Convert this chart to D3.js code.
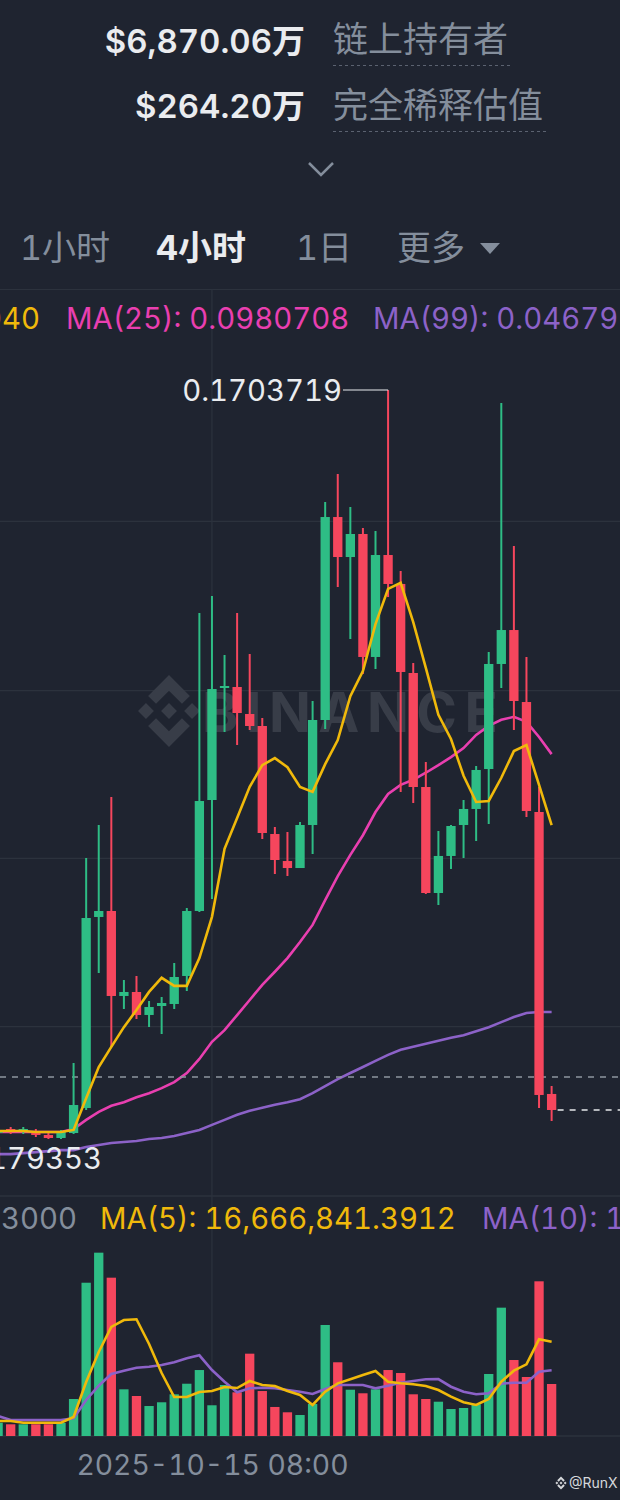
<!DOCTYPE html>
<html><head><meta charset="utf-8">
<script src="https://cdn.jsdelivr.net/npm/d3@7"></script>
<style>
html,body{margin:0;padding:0;background:#1f2430;}
svg{display:block;}
svg text{font-variant-numeric:tabular-nums;font-feature-settings:"tnum" 1;}
</style></head>
<body>
<svg id="c" width="620" height="1500"></svg>
<script>
// ---------- DATA ----------
const startTime = new Date(2025, 9, 12, 12, 0);           // first (partly hidden) 4h candle
const times = d3.range(45).map(i => d3.timeHour.offset(startTime, 4 * i));
const axisTicks = [new Date(2025, 9, 15, 8, 0)];

const opens  = [0.02289,0.02369,0.02309,0.02329,0.02250,0.02190,0.02289,0.02786,0.06577,0.06696,
                0.05009,0.05088,0.04632,0.04810,0.04850,0.05406,0.06696,0.08899,0.11122,0.11142,
                0.10606,0.10368,0.08224,0.07688,0.07549,0.08403,0.10487,0.14516,0.13722,0.14179,
                0.11738,0.13762,0.13187,0.11420,0.09157,0.07053,0.07788,0.08403,0.08721,0.09514,
                0.11599,0.12273,0.10844,0.08661,0.03064];
const highs  = [0.02389,0.02409,0.02409,0.02369,0.02309,0.02349,0.03679,0.07748,0.08403,0.08959,
                0.05326,0.05406,0.04909,0.04989,0.05664,0.06755,0.12611,0.12948,0.11777,0.12611,
                0.11797,0.10527,0.08363,0.08264,0.08462,0.10864,0.14814,0.15370,0.14715,0.14298,
                0.14239,0.1703719,0.13445,0.11618,0.09653,0.08284,0.08403,0.08899,0.09574,0.11837,
                0.16779,0.13941,0.11738,0.09157,0.03222];
const lows   = [0.02250,0.02270,0.02270,0.02210,0.02170,0.02170,0.02270,0.02746,0.05465,0.03996,
                0.04751,0.04552,0.04393,0.04254,0.04751,0.05108,0.06676,0.06934,0.10249,0.09991,
                0.10289,0.08125,0.07430,0.07391,0.07549,0.07827,0.10308,0.13127,0.12095,0.11400,
                0.11499,0.12928,0.09058,0.08840,0.07033,0.06815,0.07530,0.07748,0.08085,0.08423,
                0.11122,0.10289,0.08562,0.02786,0.02528];
const closes = [0.02349,0.02309,0.02369,0.02250,0.02190,0.02309,0.02845,0.06557,0.06696,0.05009,
                0.05088,0.04632,0.04790,0.04870,0.05386,0.06696,0.08879,0.11102,0.11162,0.10626,
                0.10368,0.08244,0.07708,0.07549,0.08403,0.10487,0.14516,0.13722,0.14179,0.11738,
                0.13762,0.13187,0.11440,0.09157,0.07053,0.07788,0.08383,0.08721,0.09495,0.11599,
                0.12273,0.10864,0.08681,0.03044,0.02746];

const ma7   = [0.0233,0.0233,0.0233,0.0231,0.0231,0.0231,0.0235,0.0298,0.0360,0.0400,
               0.0439,0.0473,0.0509,0.0537,0.0521,0.0521,0.0576,0.0658,0.0793,0.0854,
               0.0916,0.0959,0.0973,0.0955,0.0916,0.0906,0.0961,0.1009,0.1096,0.1146,
               0.1239,0.1309,0.1321,0.1243,0.1152,0.1059,0.1011,0.0938,0.0886,0.0888,
               0.0934,0.0987,0.0999,0.0920,0.0840];
const ma25  = [0.0231,0.0231,0.0231,0.0231,0.0231,0.0231,0.0237,0.0255,0.0271,0.0283,
               0.0290,0.0300,0.0308,0.0318,0.0330,0.0348,0.0376,0.0410,0.0433,0.0463,
               0.0493,0.0523,0.0549,0.0576,0.0608,0.0642,0.0691,0.0739,0.0781,0.0820,
               0.0866,0.0902,0.0920,0.0930,0.0944,0.0959,0.0975,0.0993,0.1019,0.1037,
               0.1049,0.1055,0.1045,0.1015,0.0981];
const ma99  = [0.0187,0.0187,0.0189,0.0191,0.0193,0.0195,0.0195,0.0201,0.0205,0.0209,
               0.0211,0.0213,0.0217,0.0219,0.0223,0.0229,0.0235,0.0245,0.0255,0.0265,
               0.0273,0.0279,0.0285,0.0290,0.0296,0.0308,0.0322,0.0336,0.0348,0.0360,
               0.0372,0.0384,0.0394,0.0400,0.0406,0.0412,0.0418,0.0423,0.0431,0.0439,
               0.0449,0.0459,0.0467,0.0469,0.0469];

// volume in millions
const volumes = [2.35,2.07,2.07,2.07,2.07,2.30,6.54,27.09,32.40,27.98,
                 8.25,7.07,5.30,5.96,7.37,9.24,11.66,5.43,9.01,7.72,
                 14.55,7.95,5.13,4.19,3.71,5.66,19.62,13.03,8.18,7.55,
                 8.25,11.66,11.13,7.37,6.54,6.06,4.77,4.95,5.60,10.96,
                 22.68,13.43,10.43,27.34,9.19];
const volMa5  = [2.65,2.65,2.35,2.35,2.35,2.35,3.36,9.54,14.85,19.27,
                 20.50,20.63,16.26,11.13,6.89,6.89,7.78,7.95,8.66,8.48,
                 9.72,9.01,8.84,7.95,7.25,5.48,7.83,9.31,10.02,10.78,
                 11.49,9.60,9.31,9.14,8.84,8.13,6.95,5.96,5.48,6.54,
                 9.60,11.54,12.67,17.09,16.67];
const volMa10 = [3.53,2.83,2.83,2.83,2.83,2.83,3.13,6.36,8.89,10.96,
                 11.54,12.07,12.25,12.55,13.03,13.73,14.26,11.66,9.60,7.72,
                 8.43,8.54,8.43,8.13,7.83,7.42,8.31,9.01,9.01,9.01,
                 8.43,8.89,9.42,9.72,10.02,10.07,8.71,7.83,7.37,7.55,
                 9.24,9.42,9.42,11.36,11.61];

const priceGridTicks = [0.1444, 0.1108, 0.0775, 0.0441];
const refPrice = 0.03401;           // grey dashed reference line
const maxLabel = "0.1703719";
const minLabel = "0.0179353";

// ---------- STYLE ----------
const BG = "#1f2430", GRID = "#2c323d", UP = "#2ebd85", DOWN = "#f6465d";
const C_MA7 = "#f0b90b", C_MA25 = "#e93fb0", C_MA99 = "#8c62c8";
const GRAY = "#848e9c", WHITE = "#eaecef";
const FONT = "Inter, 'Noto Sans CJK SC', sans-serif";
const CJK = "'Noto Sans CJK SC', Inter, sans-serif";
const LW = 2.6;
const FS = 29.3;

const svg = d3.select("#c");
svg.append("rect").attr("width", 620).attr("height", 1500).attr("fill", BG);

// ---------- SCALES ----------
const step = 12.58;
const r0 = -1.9 - step / 2;
const x = d3.scaleBand().domain(times).range([r0, r0 + step * times.length])
  .paddingInner(0.26).paddingOuter(0.13);
const xc = d => x(d) + x.bandwidth() / 2;
const y = d3.scaleLinear().domain([0.010587, 0.19042]).range([1195, 289]);
const yv = d3.scaleLinear().domain([0, 42.24]).range([1436, 1197]);

// ---------- HEADER ----------
const hdr = svg.append("g");
hdr.append("text").attr("x", 305).attr("y", 53).attr("text-anchor", "end")
  .attr("font-family", FONT).attr("font-size", 33).attr("font-weight", 600).attr("fill", WHITE).text("$6,870.06万");
hdr.append("text").attr("x", 305).attr("y", 118).attr("text-anchor", "end")
  .attr("font-family", FONT).attr("font-size", 33).attr("font-weight", 600).attr("fill", WHITE).text("$264.20万");
hdr.append("text").attr("x", 333).attr("y", 52).attr("font-family", CJK).attr("font-size", 35)
  .attr("fill", GRAY).text("链上持有者");
hdr.append("text").attr("x", 333).attr("y", 118).attr("font-family", CJK).attr("font-size", 35)
  .attr("fill", GRAY).text("完全稀释估值");
hdr.append("line").attr("x1", 333).attr("x2", 510).attr("y1", 65.5).attr("y2", 65.5)
  .attr("stroke", "#5b6270").attr("stroke-dasharray", "3,3");
hdr.append("line").attr("x1", 333).attr("x2", 547).attr("y1", 131.5).attr("y2", 131.5)
  .attr("stroke", "#5b6270").attr("stroke-dasharray", "3,3");
hdr.append("path").attr("d", "M309,163 L321,175 L333,163").attr("fill", "none")
  .attr("stroke", GRAY).attr("stroke-width", 2.5);

// tabs
const tabs = [{t: "1小时", x: 20, on: false}, {t: "4小时", x: 156, on: true},
              {t: "1日", x: 296, on: false}, {t: "更多", x: 397, on: false}];
hdr.selectAll(".tab").data(tabs).join("text").attr("class", "tab")
  .attr("x", d => d.x).attr("y", 260).attr("font-family", FONT).attr("font-size", 34)
  .attr("font-weight", d => d.on ? 700 : 400).attr("fill", d => d.on ? WHITE : GRAY).text(d => d.t);
hdr.append("path").attr("d", "M480,243 L500,243 L490,254 Z").attr("fill", GRAY);

// ---------- GRID ----------
svg.append("line").attr("x1", 0).attr("x2", 620).attr("y1", 289.5).attr("y2", 289.5).attr("stroke", GRID);
const gy = svg.append("g").attr("transform", "translate(620,0)")
  .call(d3.axisRight(y).tickValues(priceGridTicks).tickSize(-620).tickFormat(""));
gy.select(".domain").remove();
gy.selectAll(".tick line").attr("stroke", GRID).attr("stroke-width", 1.2);
svg.append("line").attr("x1", 0).attr("x2", 620).attr("y1", 1196).attr("y2", 1196).attr("stroke", GRID).attr("stroke-width", 1.5);
svg.append("line").attr("x1", 0).attr("x2", 620).attr("y1", 1436).attr("y2", 1436).attr("stroke", GRID).attr("stroke-width", 1.5);
svg.append("line").attr("x1", xc(axisTicks[0])).attr("x2", xc(axisTicks[0]))
  .attr("y1", 289).attr("y2", 1436).attr("stroke", GRID).attr("stroke-width", 1.2);

// ---------- WATERMARK ----------
function logo(g, cx, cy, s, fill) {
  const polys = [
    [[0,-1],[0.58,-0.42],[0.36,-0.2],[0,-0.56],[-0.36,-0.2],[-0.58,-0.42]],
    [[0,1],[0.58,0.42],[0.36,0.2],[0,0.56],[-0.36,0.2],[-0.58,0.42]],
    [[0,-0.22],[0.22,0],[0,0.22],[-0.22,0]],
    [[0.64,-0.22],[0.86,0],[0.64,0.22],[0.42,0]],
    [[-0.64,-0.22],[-0.42,0],[-0.64,0.22],[-0.86,0]]
  ];
  polys.forEach(p => g.append("path")
    .attr("d", "M" + p.map(q => (cx + q[0] * s) + "," + (cy + q[1] * s)).join("L") + "Z")
    .attr("fill", fill));
}
const wm = svg.append("g");
logo(wm, 169, 711, 36, "#383d48");
wm.append("text").attr("x", 202).attr("y", 732).attr("font-family", FONT).attr("font-size", 55)
  .attr("font-weight", 700).attr("fill", "#383d48").attr("textLength", 296).text("BINANCE");

// ---------- MA LINES (price) ----------
const line = arr => d3.line().x((d, i) => xc(times[i])).y(d => y(d))(arr);
svg.append("path").attr("d", line(ma99)).attr("fill", "none").attr("stroke", C_MA99).attr("stroke-width", LW);
svg.append("path").attr("d", line(ma25)).attr("fill", "none").attr("stroke", C_MA25).attr("stroke-width", LW);

// reference dashed line
svg.append("line").attr("x1", 0).attr("x2", 620).attr("y1", y(refPrice)).attr("y2", y(refPrice))
  .attr("stroke", "#8f959f").attr("stroke-width", 1.6).attr("stroke-dasharray", "6,6");

// ---------- CANDLES ----------
const candles = times.map((t, i) => ({t, o: opens[i], h: highs[i], l: lows[i], c: closes[i]}));
const cg = svg.append("g");
cg.selectAll(".wick").data(candles).join("line").attr("class", "wick")
  .attr("x1", d => xc(d.t)).attr("x2", d => xc(d.t))
  .attr("y1", d => y(d.h)).attr("y2", d => y(d.l))
  .attr("stroke", d => d.c >= d.o ? UP : DOWN).attr("stroke-width", 2);
cg.selectAll(".body").data(candles).join("rect").attr("class", "body")
  .attr("x", d => x(d.t)).attr("width", x.bandwidth())
  .attr("y", d => y(Math.max(d.o, d.c)))
  .attr("height", d => Math.max(1.5, Math.abs(y(d.o) - y(d.c))))
  .attr("fill", d => d.c >= d.o ? UP : DOWN);

svg.append("path").attr("d", line(ma7)).attr("fill", "none").attr("stroke", C_MA7).attr("stroke-width", LW);

// last price dashed line
const last = candles[candles.length - 1];
svg.append("line").attr("x1", xc(last.t) + 6).attr("x2", 620).attr("y1", y(last.c)).attr("y2", y(last.c))
  .attr("stroke", "#e6e8ea").attr("stroke-width", 1.6).attr("stroke-dasharray", "6,6");

// max / min labels
const hi = candles[d3.maxIndex(highs)];
svg.append("line").attr("x1", 343).attr("x2", xc(hi.t)).attr("y1", y(hi.h)).attr("y2", y(hi.h))
  .attr("stroke", WHITE).attr("stroke-width", 1);
svg.append("text").attr("x", 342).attr("y", y(hi.h) + 11).attr("text-anchor", "end")
  .attr("font-family", FONT).attr("font-size", FS).attr("fill", WHITE).text(maxLabel);
svg.append("text").attr("x", 102).attr("y", y(+minLabel) + 11).attr("text-anchor", "end")
  .attr("font-family", FONT).attr("font-size", FS).attr("fill", WHITE).text(minLabel);

// ---------- LEGENDS ----------
svg.append("text").attr("x", 40).attr("y", 329).attr("text-anchor", "end").attr("font-family", FONT)
  .attr("font-size", FS).attr("fill", C_MA7).text("MA(7): 0.0840040");
svg.append("text").attr("x", 66).attr("y", 329).attr("font-family", FONT)
  .attr("font-size", FS).attr("fill", C_MA25).text("MA(25): 0.0980708");
svg.append("text").attr("x", 373).attr("y", 329).attr("font-family", FONT)
  .attr("font-size", FS).attr("fill", C_MA99).text("MA(99): 0.0467912");

svg.append("text").attr("x", 1).attr("y", 1229).attr("font-family", FONT)
  .attr("font-size", FS).attr("fill", GRAY).text("3000");
svg.append("text").attr("x", 100).attr("y", 1229).attr("font-family", FONT)
  .attr("font-size", FS).attr("fill", C_MA7).text("MA(5): 16,666,841.3912");
svg.append("text").attr("x", 482).attr("y", 1229).attr("font-family", FONT)
  .attr("font-size", FS).attr("fill", C_MA99).text("MA(10): 11,613,000.0000");

// ---------- VOLUME ----------
const vg = svg.append("g");
vg.selectAll(".vol").data(candles).join("rect").attr("class", "vol")
  .attr("x", d => x(d.t)).attr("width", x.bandwidth())
  .attr("y", (d, i) => yv(volumes[i])).attr("height", (d, i) => yv(0) - yv(volumes[i]))
  .attr("fill", d => d.c >= d.o ? UP : DOWN);
const vline = arr => d3.line().x((d, i) => xc(times[i])).y(d => yv(d))(arr);
vg.append("path").attr("d", vline(volMa10)).attr("fill", "none").attr("stroke", C_MA99).attr("stroke-width", LW);
vg.append("path").attr("d", vline(volMa5)).attr("fill", "none").attr("stroke", C_MA7).attr("stroke-width", LW);

// ---------- X AXIS ----------
const xa = svg.append("g").attr("transform", "translate(0,1436)")
  .call(d3.axisBottom(d3.scaleTime().domain([times[0], times[times.length - 1]])
        .range([xc(times[0]), xc(times[times.length - 1])]))
        .tickValues(axisTicks).tickFormat(d3.timeFormat("%Y-%m-%d %H:%M")).tickSize(0));
xa.select(".domain").remove();
xa.selectAll("text").attr("font-family", FONT).attr("font-size", 28.3).attr("fill", GRAY)
  .attr("dy", null).attr("y", 39);

// ---------- FOOTER MARK ----------
logo(svg.append("g"), 561, 1483, 6.5, "#d6d8db");
svg.append("text").attr("x", 569).attr("y", 1488).attr("font-family", FONT).attr("font-size", 14)
  .attr("fill", "#d6d8db").text("@RunX");
</script>
</body></html>
